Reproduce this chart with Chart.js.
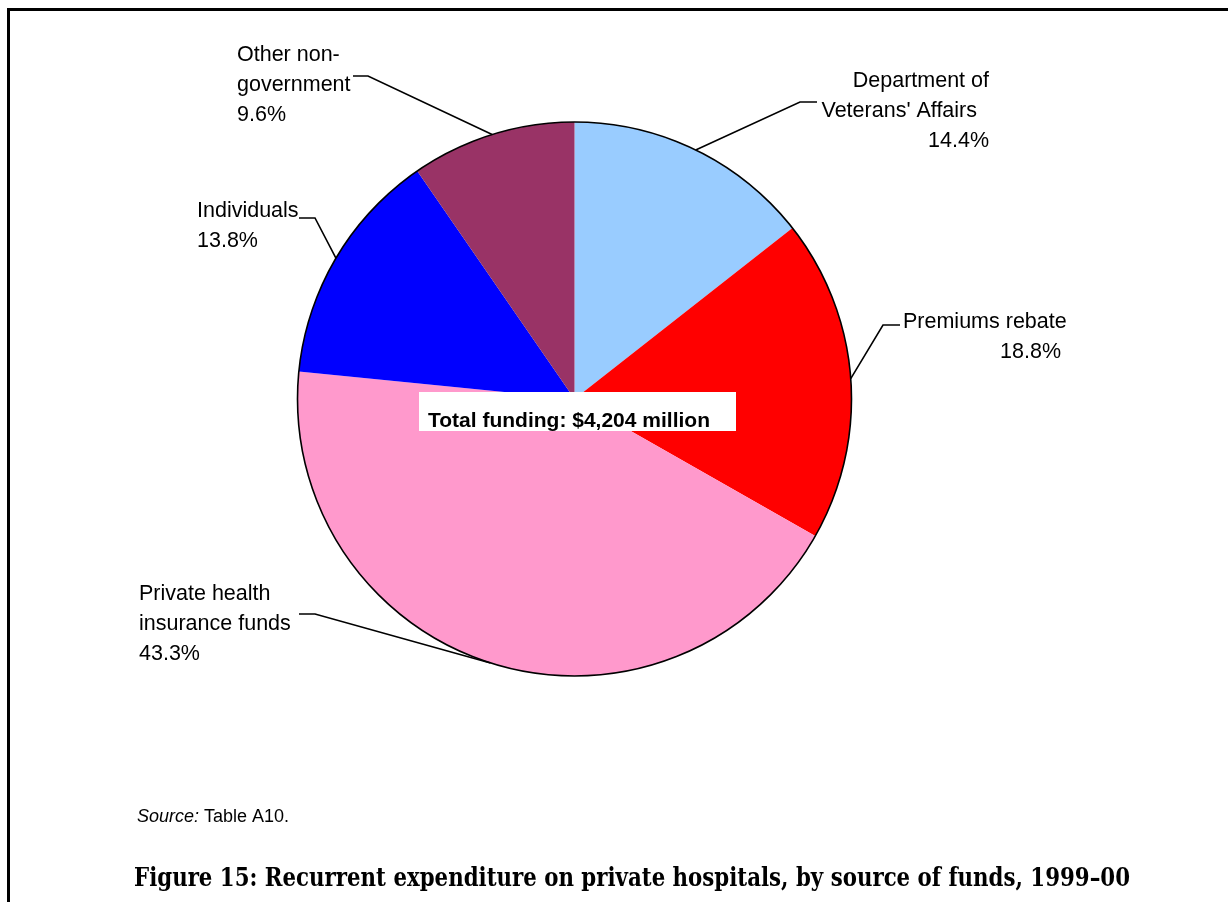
<!DOCTYPE html>
<html>
<head>
<meta charset="utf-8">
<script src="https://cdn.jsdelivr.net/npm/chart.js@4.4.0/dist/chart.umd.min.js"></script>
<style>
  html, body { margin: 0; padding: 0; background: #ffffff; }
  #wrap { position: relative; width: 1228px; height: 902px; }
  canvas { display: block; }
</style>
</head>
<body>
<div id="wrap"><canvas id="c" width="1228" height="902"></canvas></div>
<script>
// ---- data ----
const categories = ["Department of Veterans' Affairs", "Premiums rebate", "Private health insurance funds", "Individuals", "Other non-government"];
const shares = [14.4, 18.8, 43.3, 13.8, 9.6];
const labelText = [
  ["Department of", "Veterans' Affairs"],
  ["Premiums rebate"],
  ["Private health", "insurance funds"],
  ["Individuals"],
  ["Other non-", "government"]
];
const sliceColors = ["#99CCFF", "#FF0000", "#FF99CC", "#0000FF", "#993366"];
const totalLabel = "Total funding: $4,204 million";
const sourceItalic = "Source:";
const sourceText = " Table A10.";
const captionText = "Figure 15: Recurrent expenditure on private hospitals, by source of funds, 1999\u201300";

// ---- label layout (positions only) ----
const labelLayout = [
  { lines: [[989, 81, "right"], [977, 111, "right"], [989, 141, "right"]], elbow: [817, 102, 800] },
  { lines: [[903, 322, "left"], [1061, 352, "right"]], elbow: [900, 325, 883] },
  { lines: [[139, 594, "left"], [139, 624, "left"], [139, 654, "left"]], elbow: [299, 614, 315] },
  { lines: [[197, 211, "left"], [197, 241, "left"]], elbow: [299, 218, 315] },
  { lines: [[237, 55, "left"], [237, 85, "left"], [237, 115, "left"]], elbow: [353, 76, 368] }
];

const LABEL_FONT = "21.5px 'Liberation Sans', Arial, sans-serif";
const CAPTION_FONT = "bold 26px 'DejaVu Serif', 'Liberation Serif', serif";

const decorPlugin = {
  id: 'decor',
  beforeDraw(chart) {
    const ctx = chart.ctx;
    ctx.save();
    ctx.fillStyle = '#ffffff';
    ctx.fillRect(0, 0, chart.width, chart.height);
    ctx.fillStyle = '#000000';
    ctx.fillRect(7, 8, 1221, 3);
    ctx.fillRect(7, 8, 3, 894);
    ctx.restore();
  },
  afterDatasetsDraw(chart) {
    const ctx = chart.ctx;
    const meta = chart.getDatasetMeta(0);
    const a0 = meta.data[0];
    ctx.save();
    ctx.beginPath();
    ctx.arc(a0.x, a0.y, a0.outerRadius, 0, Math.PI * 2);
    ctx.lineWidth = 1.6;
    ctx.strokeStyle = '#000000';
    ctx.stroke();

    ctx.font = LABEL_FONT;
    ctx.fillStyle = '#000000';
    ctx.textBaseline = 'middle';
    meta.data.forEach((arc, i) => {
      const mid = (arc.startAngle + arc.endAngle) / 2;
      const px = arc.x + arc.outerRadius * Math.cos(mid);
      const py = arc.y + arc.outerRadius * Math.sin(mid);
      const L = labelLayout[i];
      const [ex1, ey, ex2] = L.elbow;
      ctx.beginPath();
      ctx.moveTo(ex1, ey);
      ctx.lineTo(ex2, ey);
      ctx.lineTo(px, py);
      ctx.lineWidth = 1.6;
      ctx.strokeStyle = '#000000';
      ctx.stroke();
      const texts = labelText[i].concat([shares[i].toFixed(1) + '%']);
      texts.forEach((t, k) => {
        const [x, y, al] = L.lines[k];
        ctx.textAlign = al;
        ctx.fillText(t, x, y);
      });
    });

    ctx.fillStyle = '#ffffff';
    ctx.fillRect(419, 392, 317, 39);
    ctx.fillStyle = '#000000';
    ctx.font = "bold 21px 'Liberation Sans', Arial, sans-serif";
    ctx.textAlign = 'left';
    ctx.textBaseline = 'alphabetic';
    ctx.fillText(totalLabel, 428, 427);

    ctx.font = "italic 18px 'Liberation Sans', Arial, sans-serif";
    ctx.textBaseline = 'middle';
    ctx.fillText(sourceItalic, 137, 817);
    const w = ctx.measureText(sourceItalic).width;
    ctx.font = "18px 'Liberation Sans', Arial, sans-serif";
    ctx.fillText(sourceText, 137 + w, 817);

    // caption, horizontally condensed to fit
    ctx.font = CAPTION_FONT;
    const cw = ctx.measureText(captionText).width;
    const sx = 996 / cw;
    ctx.textBaseline = 'alphabetic';
    ctx.translate(134, 886);
    ctx.scale(sx, 1);
    ctx.fillText(captionText, 0, 0);
    ctx.restore();
  }
};

new Chart(document.getElementById('c'), {
  type: 'pie',
  data: {
    labels: categories,
    datasets: [{
      data: shares,
      backgroundColor: sliceColors,
      borderWidth: 0
    }]
  },
  options: {
    responsive: false,
    devicePixelRatio: 1,
    animation: false,
    events: [],
    layout: { padding: { left: 297, right: 376, top: 122, bottom: 226 } },
    plugins: {
      legend: { display: false },
      tooltip: { enabled: false },
      title: { display: false }
    }
  },
  plugins: [decorPlugin]
});
</script>
</body>
</html>
